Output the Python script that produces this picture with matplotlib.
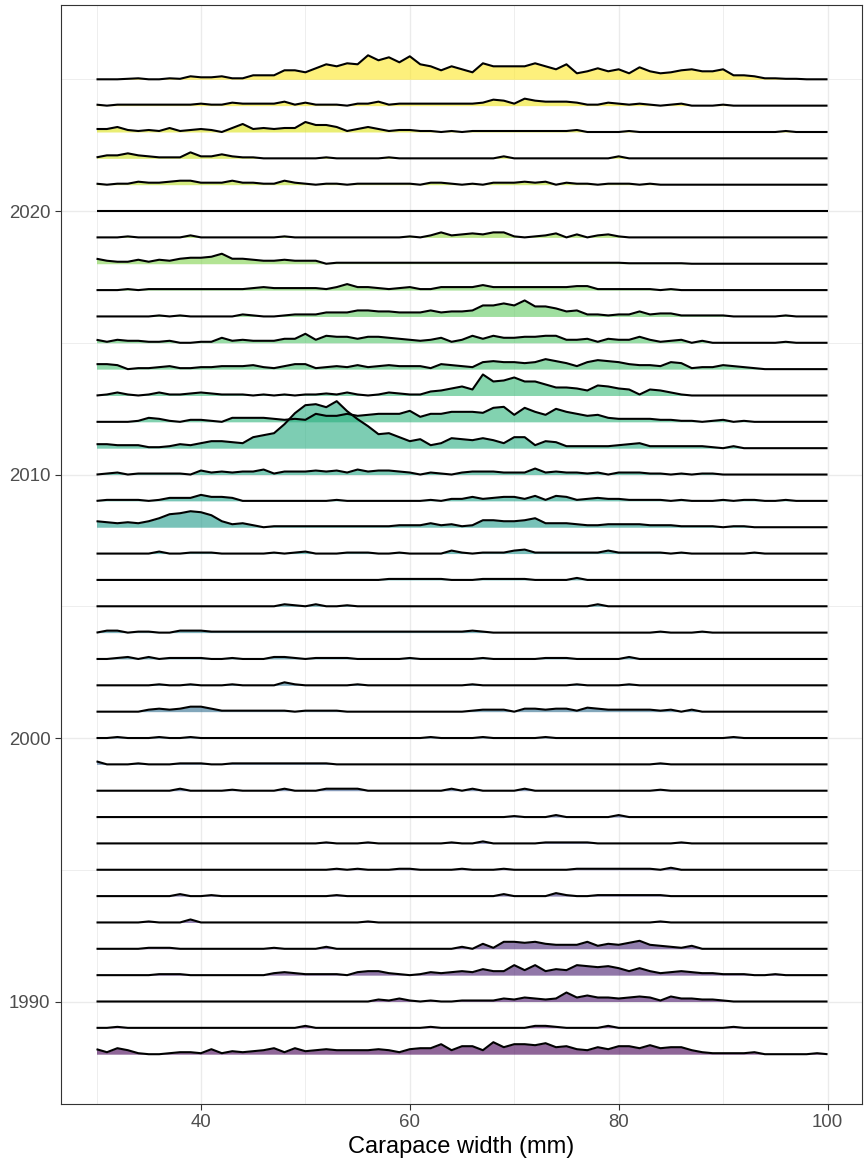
import numpy as np
import matplotlib
matplotlib.use("Agg")
import matplotlib.pyplot as plt

plt.rcParams['font.family'] = ['Liberation Sans', 'DejaVu Sans']

# carapace width bins (mm)
width = np.arange(30, 101)

# ridge heights per year, one value per mm (arbitrary density units)
w2025 = [0,0,0,0.5,1,0,0,1,0.5,3, 2,2,3,1,1,4,4,4,9,9, 7,11,15,13,16,15,24,19,22,17, 23,15,13,9,13,10,
         7,16,13,13,13,13,16,13,10,15, 6,8,11,8,10,6,12,8,6,7, 9,10,8,8,10,4,4,3,1,1, 0.5,0.5,0,0,0]
w2024 = [1,0,1,1,1,1,1,1,1,1, 2,1,1,3,2,2,2,2,4,1, 3,1,1,1,0,2,2,4,1,2, 2,2,2,2,2,2,
         2,3,6,5,2,7,5,4,4,4, 3,1,1,3,2,1,2,1,0,1, 2,0,0,0,1,0,0,0,0,0, 0,0,0,0,0]
w2023 = [3,3,5,2,1,2,1,4,1,2, 3,2,0,4,8,3,4,3,4,4, 10,7,7,5,1,3,5,3,1,2, 2,1,1,0,1,0,
         1,1,1,1,1,1,1,1,1,1, 2,0,0,0,0,1,0,0,0,0, 0,0,0,0,0,0,0,0,0,0, 1,0,0,0,0]
w2022 = [1,3,3,5,3,2,1,1,1,6, 2,2,4,2,1,1,0,0,0,0, 0,0,1,0,0,0,0,0,1,0, 0,0,0,0,0,0,
         0,0,0,2,0,0,0,0,0,0, 0,0,0,0,2,0,0,0,0,0, 0,0,0,0,0,0,0,0,0,0, 0,0,0,0,0]
w2021 = [1,0,1,1,3,2,2,3,4,4, 2,2,2,4,2,2,1,1,4,2, 1,0,1,1,0,1,1,1,1,1, 1,0,2,2,1,0,
         1,0,2,2,2,3,2,3,0,2, 1,1,0,1,1,1,0,1,0,0, 0,0,0,0,0,0,0,0,0,0, 0,0,0,0,0]
w2020 = [0] * 71
w2019 = [0,0,0,1,0,0,0,0,0,2, 0,0,0,0,0,0,0,0,1,0, 0,0,0,0,0,0,0,0,0,0, 1,0,2,5,2,3,
         4,3,5,5,1,0,1,2,4,0, 3,0,2,3,1,0,0,0,0,0, 0,0,0,0,0,0,0,0,0,0, 0,0,0,0,0]
w2018 = [5,3,2,2,4,2,4,3,5,6, 6,7,10,5,5,4,3,3,4,3, 3,3,0,1,1,1,1,1,1,1, 1,1,1,1,1,1,
         1,1,1,1,1,1,1,1,1,1, 1,1,1,1,1,0.5,0.5,0.5,0.5,0.5, 0.5,0,0,0,0,0,0,0,0,0, 0,0,0,0,0]
w2017 = [0,0,0,1,0,1,1,1,1,1, 1,1,1,1,1,2,3,2,2,2, 2,2,1,3,6,3,3,2,1,2, 3,1,1,3,3,3,
         3,5,3,3,3,3,3,3,3,3, 4,4,1,1,1,1,1,1,0,1, 0,0,0,0,0,0,0,0,0,0, 0,0,0,0,0]
w2016 = [0,0,0,0,0,0,1,0,1,0, 0,0,0,0,2,1,0,0,1,2, 2,2,4,4,4,6,6,5,5,4, 4,4,6,4,5,5,
         6,11,11,13,11,16,10,10,8,5, 6,2,2,1,2,2,5,2,3,3, 1,1,1,1,1,0,0,0,0,0, 1,0,0,0,0]
w2015 = [3,1,3,2,2,1,1,2,0,0, 1,1,5,2,3,2,2,2,4,4, 9,3,7,6,6,4,6,6,5,4, 3,2,3,5,1,3,
         7,4,7,5,5,6,6,7,7,3, 3,4,1,4,3,3,6,3,1,2, 3,0,2,0,0,0,0,0,0,0, 1,0,0,0,0]
w2014 = [5,5,4,0,1,1,2,3,1,1, 2,2,3,3,3,4,2,1,3,5, 5,1,2,3,2,4,2,3,4,3, 3,3,1,5,4,3,
         2,7,8,7,7,6,7,10,8,6, 3,7,9,8,7,5,4,4,3,7, 6,1,2,2,4,3,2,1,0,0, 0,0,0,0,0]
w2013 = [0,1,3,1,0,1,3,1,1,2, 3,2,1,1,1,0,1,0,1,0, 1,1,2,1,3,1,0,1,3,2, 1,1,4,5,7,9,
         6,21,14,15,18,14,14,11,8,8, 7,5,10,9,7,6,1,6,5,3, 1,0,0,0,0,0,0,0,0,0, 0,0,0,0,0]
w2012 = [0,0,0,0,1,4,3,1,0,2, 2,1,0,4,4,4,4,3,2,3, 2,8,6,6,8,6,7,8,8,8, 11,5,8,8,10,10,
         10,9,14,15,7,14,10,7,13,10, 8,6,7,4,3,3,3,3,2,2, 1,1,0,1,2,0,1,0,0,0, 0,0,0,0,0]
w2011 = [4,4,3,3,3,1,1,2,4,3, 5,7,7,6,5,11,13,15,24,35, 43,44,41,47,37,29,22,14,15,11, 7,9,3,5,10,9,
         8,10,8,5,11,11,3,7,6,2, 2,2,2,2,3,4,5,2,2,2, 2,2,2,1,0,2,0,0,0,0, 0,0,0,0,0]
w2010 = [0,1,2,0,1,1,1,1,1,0, 4,2,3,2,3,3,5,1,3,3, 3,4,3,4,2,5,3,4,4,3, 2,0,2,1,0,2,
         3,3,3,2,2,2,6,2,3,2, 2,1,2,0,2,2,2,1,1,0, 1,0,1,1,0,0,0,0,0,0, 0,0,0,0,0]
w2009 = [0,1,1,1,1,0,1,3,3,3, 6,4,4,3,0,0,0,0,0,0, 0,0,0,1,0,0,0,0,0,0, 0,0,1,0,2,2,
         4,2,3,4,4,2,5,1,5,4, 1,2,3,2,2,1,1,1,1,0, 1,0,0,0,1,0,1,1,0,0, 1,0,0,0,0]
w2008 = [6,5,4,5,4,6,9,13,14,16, 15,12,6,3,4,2,0,1,1,1, 1,1,1,1,1,1,1,1,1,2, 2,2,4,2,3,1,
         2,7,7,6,6,7,9,4,4,4, 3,2,2,3,3,3,3,2,2,2, 1,1,1,1,0,1,1,0,0,0, 0,0,0,0,0]
w2007 = [0,0,0,0,0,0,2,0,0,1, 1,1,0,0,0,0,0,1,0,1, 2,0,0,0,1,1,1,0,0,1, 0,0,0,0,3,1,
         0,1,1,1,3,4,1,1,1,1, 1,1,1,3,1,1,1,1,1,0, 1,0,0,0,0,0,0,1,0,0, 0,0,0,0,0]
w2006 = [0,0,0,0,0,0,0,0,0,0, 0,0,0,0,0,0,0,0,0,0, 0,0,0,0,0,0,0,0,1,1, 1,1,1,1,0,0,
         0,1,1,1,1,1,0,0,0,0, 2,0,0,0,0,0,0,0,0,0, 0,0,0,0,0,0,0,0,0,0, 0,0,0,0,0]
w2005 = [0,0,0,0,0,0,0,0,0,0, 0,0,0,0,0,0,0,0,2,1, 0,2,0,0,1,0,0,0,0,0, 0,0,0,0,0,0,
         0,0,0,0,0,0,0,0,0,0, 0,0,2,0,0,0,0,0,0,0, 0,0,0,0,0,0,0,0,0,0, 0,0,0,0,0]
w2004 = [0,2,2,0,1,1,0,0,2,2, 2,1,1,1,1,1,1,1,1,1, 1,1,1,1,1,1,1,1,1,1, 1,1,1,1,1,1,
         2,1,0,0,0,0,0,0,0,0, 0,0,0,0,0,0,0,0,1,0, 0,0,1,0,0,0,0,0,0,0, 0,0,0,0,0]
w2003 = [0,0,1,2,0,2,0,1,1,1, 1,0,0,1,0,0,0,2,2,1, 0,1,1,1,1,0,0,0,0,0, 1,0,0,0,0,0,
         0,1,0,0,0,0,0,1,1,1, 0,0,0,0,0,2,0,0,0,0, 0,0,0,0,0,0,0,0,0,0, 0,0,0,0,0]
w2002 = [0,0,0,0,0,0,1,0,0,1, 0,0,0,1,0,0,0,0,3,1, 0,0,0,0,0,1,0,0,0,0, 0,0,0,0,0,0,
         1,0,0,0,0,0,0,0,0,0, 1,0,0,0,0,1,0,0,0,0, 0,0,0,0,0,0,0,0,0,0, 0,0,0,0,0]
w2001 = [0,0,0,0,0,2,3,2,3,5, 5,3,1,1,1,1,1,1,1,0, 1,1,1,1,0,0,0,0,0,0, 0,0,0,0,0,0,
         1,2,2,2,0,3,3,2,3,3, 1,4,3,2,2,2,2,2,1,2, 0,2,0,0,0,0,0,0,0,0, 0,0,0,0,0]
w2000 = [0,0,1,0,0,0,1,0,0,1, 0,0,0,0,0,0,0,0,0,0, 0,0,0,0,0,0,0,0,0,0, 0,0,1,0,0,0,
         0,1,0,0,0,0,0,1,0,0, 0,0,0,0,0,0,0,0,0,0, 0,0,0,0,0,1,0,0,0,0, 0,0,0,0,0]
w1999 = [3,0,0,0,1,0,0,0,1,1, 1,0,0,1,1,1,1,1,1,1, 1,1,1,0,0,0,0,0,0,0, 0,0,0,0,0,0,
         0,0,0,0,0,0,0,0,0,0, 0,0,0,0,0,0,0,0,1,0, 0,0,0,0,0,0,0,0,0,0, 0,0,0,0,0]
w1998 = [0,0,0,0,0,0,0,0,2,0, 0,0,0,1,0,0,0,0,2,0, 0,0,2,2,2,2,0,0,0,0, 0,0,0,0,2,0,
         2,0,0,0,0,2,0,0,0,0, 0,0,0,0,0,0,0,0,1,0, 0,0,0,0,0,0,0,0,0,0, 0,0,0,0,0]
w1997 = [0,0,0,0,0,0,0,0,0,0, 0,0,0,0,0,0,0,0,0,0, 0,0,0,0,0,0,0,0,0,0, 0,0,0,0,0,0,
         0,0,0,0,1,0,0,0,2,0, 0,0,0,0,2,0,0,0,0,0, 0,0,0,0,0,0,0,0,0,0, 0,0,0,0,0]
w1996 = [0,0,0,0,0,0,0,0,0,0, 0,0,0,0,0,0,0,0,0,0, 0,0,1,0,0,0,1,0,0,0, 0,0,0,0,1,0,
         0,2,0,0,0,0,0,1,1,1, 1,1,0,0,0,0,0,0,0,0, 1,0,0,0,0,0,0,0,0,0, 0,0,0,0,0]
w1995 = [0,0,0,0,0,0,0,0,0,0, 0,0,0,0,0,0,0,0,0,0, 0,0,0,1,0,1,0,0,0,1, 1,0,0,0,0,1,
         0,0,0,1,0,0,0,0,0,0, 1,1,1,1,1,1,1,1,0,2, 0,0,0,0,0,0,0,0,0,0, 0,0,0,0,0]
w1994 = [0,0,0,0,0,0,0,0,2,0, 0,1,0,0,0,0,0,0,0,0, 0,0,0,1,0,0,0,0,0,0, 0,0,0,0,0,0,
         0,0,0,2,0,0,0,0,3,1, 0,0,1,1,1,1,1,1,1,0, 0,0,0,0,0,0,0,0,0,0, 0,0,0,0,0]
w1993 = [0,0,0,0,0,1,0,0,0,3, 0,0,0,0,0,0,0,0,0,0, 0,0,0,0,0,0,1,0,0,0, 0,0,0,0,0,0,
         0,0,0,0,0,0,0,0,0,0, 0,0,0,0,0,0,0,0,1,0, 0,0,0,0,0,0,0,0,0,0, 0,0,0,0,0]
w1992 = [0,0,0,0,0,1,1,1,0,0, 0,0,0,0,0,0,0,1,0,0, 0,0,2,0,0,0,0,0,0,0, 0,0,0,0,0,2,
         0,5,1,7,7,6,7,5,4,4, 4,7,3,5,4,6,8,4,3,2, 1,3,0,0,0,0,0,0,0,0, 0,0,0,0,0]
w1991 = [0,0,0,0,0,0,1,1,1,0, 0,0,0,0,0,0,0,2,3,2, 1,1,1,1,0,3,4,4,2,1, 0,1,3,2,3,4,
         3,6,4,4,10,5,10,4,6,5, 10,9,8,9,7,4,7,4,2,3, 4,3,2,2,1,1,1,0,0,1, 0,0,0,0,0]
w1990 = [0,0,0,0,0,0,0,0,0,0, 0,0,0,0,0,0,0,0,0,0, 0,0,0,0,0,0,0,2,1,3, 1,0,1,0,0,1,
         1,1,1,3,2,4,3,2,3,9, 4,6,4,4,3,4,5,4,1,5, 3,3,2,2,1,0,0,0,0,0, 0,0,0,0,0]
w1989 = [0,0,1,0,0,0,0,0,0,0, 0,0,0,0,0,0,0,0,0,0, 2,0,0,0,0,0,0,0,0,0, 0,0,1,0,0,0,
         0,0,0,0,0,0,2,2,1,0, 0,0,0,2,0,0,0,0,0,0, 0,0,0,0,0,1,0,0,0,0, 0,0,0,0,0]
w1988 = [5,2,6,4,1,0,0,1,2,2, 1,5,1,3,2,3,4,6,2,6, 3,4,5,4,4,4,4,5,4,2, 5,6,6,10,4,8,
         8,4,12,7,10,10,9,11,7,8, 5,4,7,5,8,8,6,9,6,7, 7,4,2,1,1,1,1,2,0,0, 0,0,0,1,0]

years = list(range(1988, 2026))
ridges = [w1988, w1989, w1990, w1991, w1992, w1993, w1994, w1995, w1996, w1997,
          w1998, w1999, w2000, w2001, w2002, w2003, w2004, w2005, w2006, w2007,
          w2008, w2009, w2010, w2011, w2012, w2013, w2014, w2015, w2016, w2017,
          w2018, w2019, w2020, w2021, w2022, w2023, w2024, w2025]

scale = 1 / 26.35   # ridge height -> year units

fig = plt.figure(figsize=(8.64, 11.62), dpi=100)
ax = fig.add_axes([61 / 864, 1 - 1104 / 1162, 801 / 864, 1099 / 1162])

cmap = plt.get_cmap('viridis')
norm = plt.Normalize(1988, 2025)

# draw top ridge first so lower ridges overlay the ones above
for yr, h in sorted(zip(years, ridges), key=lambda t: -t[0]):
    top = yr + np.asarray(h, dtype=float) * scale
    ax.fill_between(width, yr, top, color=cmap(norm(yr)), alpha=0.6, lw=0, zorder=2)
    ax.plot(width, top, color='black', lw=1.5, zorder=3,
            solid_joinstyle='round', solid_capstyle='butt')

ax.set_xlim(26.6, 103.3)
ax.set_ylim(1986.11, 2027.82)

ax.set_xticks([40, 60, 80, 100])
ax.set_xticks([30, 50, 70, 90], minor=True)
ax.set_yticks([1990, 2000, 2010, 2020])
ax.set_yticks([1995, 2005, 2015, 2025], minor=True)

ax.grid(which='major', color='#ebebeb', lw=1.0, zorder=0)
ax.grid(which='minor', color='#ebebeb', lw=0.6, zorder=0)
ax.set_axisbelow(True)

ax.tick_params(which='major', length=4.5, width=0.8, color='#333333',
               labelcolor='#4d4d4d', labelsize=13.4, pad=3)
ax.tick_params(which='minor', length=0)
for s in ax.spines.values():
    s.set_color('#333333')
    s.set_linewidth(0.8)

ax.set_xlabel('Carapace width (mm)', fontsize=17, color='black', labelpad=3)

fig.savefig('out.png', dpi=100)
